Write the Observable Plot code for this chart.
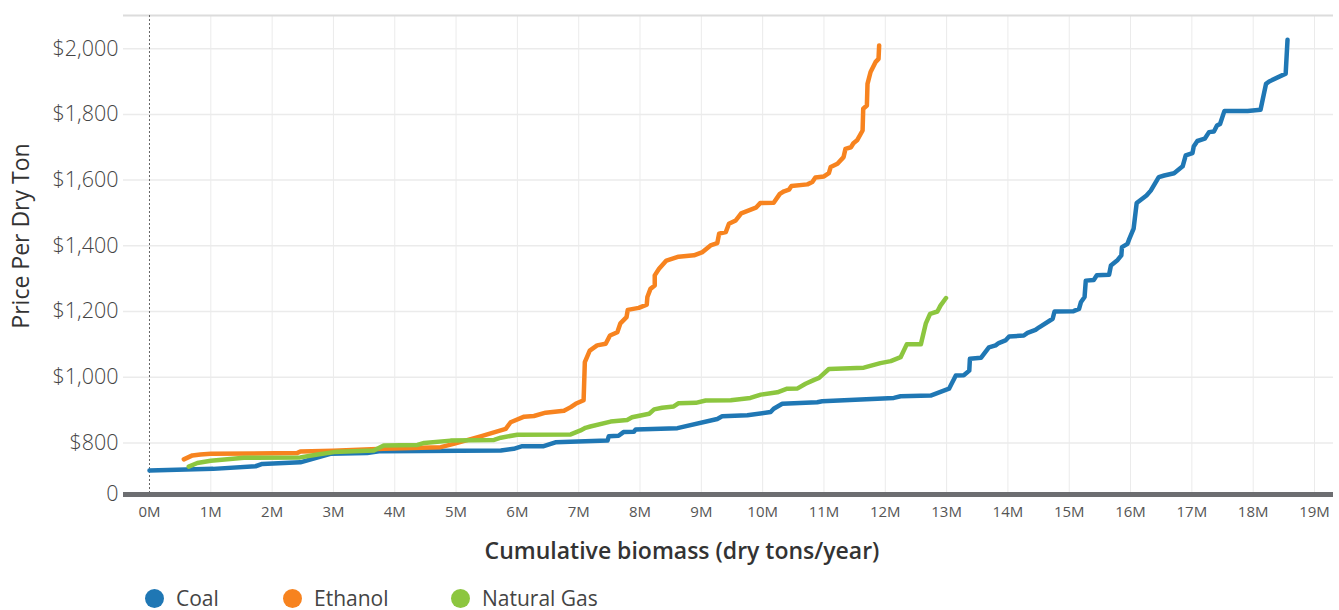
<!DOCTYPE html>
<html>
<head>
<meta charset="utf-8">
<script src="https://cdn.jsdelivr.net/npm/d3@7"></script>
<script src="https://cdn.jsdelivr.net/npm/@observablehq/plot@0.6"></script>
<style>
  html, body { margin: 0; padding: 0; background: #fff; }
  #wrap { position: relative; width: 1339px; height: 610px; font-family: "Open Sans", sans-serif; }
  #xlabel { position: absolute; left: 0; width: 1364px; top: 534px; text-align: center; font-size: 23px; font-weight: 600; color: #333; }
  #ylabel { position: absolute; left: 4px; top: 236px; width: 0; height: 0; }
  #ylabel span { position: absolute; transform: translate(-50%, -50%) rotate(-90deg); left: 16px; top: 0; white-space: nowrap; font-size: 23px; font-weight: 500; color: #333; }
  #legend { position: absolute; left: 145px; top: 584px; display: flex; font-size: 21px; color: #444; }
  .item { display: flex; align-items: center; }
  .dot { width: 19px; height: 19px; border-radius: 50%; margin-right: 12px; }
</style>
</head>
<body>
<div id="wrap">
  <div id="chart"></div>
  <div id="ylabel"><span>Price Per Dry Ton</span></div>
  <div id="xlabel">Cumulative biomass (dry tons/year)</div>
  <div id="legend"></div>
</div>
<script>
// ---- Data (cumulative biomass in millions of dry tons, price $/dry ton) ----
const seriesNames = ["Coal", "Ethanol", "Natural Gas"];
const seriesColors = ["#1f77b4", "#f7831f", "#8cc63f"];

const coalMt = [0.00,1.04,1.73,1.84,2.46,2.95,3.55,3.77,5.73,5.94,6.08,6.43,6.62,7.47,7.49,7.65,7.73,7.90,7.93,8.61,9.26,9.34,9.75,10.13,10.18,10.32,10.89,10.97,12.14,12.25,12.74,13.04,13.15,13.28,13.37,13.38,13.56,13.69,13.80,13.85,13.96,14.02,14.26,14.32,14.45,14.51,14.73,14.76,15.07,15.16,15.19,15.25,15.27,15.40,15.45,15.65,15.68,15.79,15.85,15.86,15.95,15.98,16.05,16.10,16.26,16.33,16.46,16.55,16.71,16.85,16.90,17.01,17.03,17.09,17.21,17.28,17.36,17.41,17.46,17.53,17.91,18.12,18.21,18.26,18.53,18.56];
const coalPrice = [716,721,729,736,741,767,769,775,777,782,790,790,802,807,820,822,833,834,841,845,873,881,884,894,904,919,924,927,937,942,944,965,1005,1006,1020,1056,1059,1091,1097,1104,1112,1124,1127,1135,1144,1152,1178,1200,1201,1208,1228,1244,1294,1296,1310,1312,1340,1357,1371,1396,1406,1421,1452,1530,1553,1568,1609,1614,1621,1642,1675,1682,1702,1719,1726,1746,1748,1766,1771,1810,1810,1814,1893,1900,1924,2027];

const ethanolMt = [0.56,0.70,0.83,1.00,2.41,2.46,3.00,3.82,4.75,4.96,5.40,5.81,5.89,6.11,6.27,6.46,6.76,6.87,6.95,7.08,7.10,7.18,7.30,7.44,7.51,7.63,7.68,7.78,7.80,7.98,8.11,8.12,8.17,8.24,8.24,8.31,8.43,8.63,8.88,9.02,9.15,9.26,9.29,9.40,9.45,9.56,9.65,9.89,9.96,10.18,10.28,10.35,10.43,10.47,10.73,10.81,10.86,11.00,11.08,11.11,11.22,11.32,11.35,11.44,11.48,11.54,11.63,11.64,11.70,11.71,11.76,11.84,11.89,11.90];
const ethanolPrice = [750,762,765,767,769,774,776,782,787,797,820,843,863,880,882,892,898,909,919,930,1046,1081,1097,1102,1127,1137,1164,1183,1205,1211,1221,1244,1269,1279,1310,1330,1355,1367,1371,1381,1401,1408,1437,1442,1467,1477,1499,1516,1530,1531,1558,1566,1571,1582,1587,1594,1608,1611,1621,1640,1650,1670,1695,1700,1712,1721,1751,1817,1827,1893,1929,1959,1969,2010];

const gasMt = [0.64,0.78,1.00,1.54,2.46,2.74,3.01,3.66,3.82,4.37,4.48,4.91,5.62,5.73,6.00,6.87,7.03,7.11,7.19,7.52,7.79,7.87,8.15,8.23,8.36,8.55,8.63,8.91,9.07,9.48,9.80,9.97,10.24,10.40,10.57,10.70,10.84,10.92,11.08,11.65,11.92,12.09,12.25,12.35,12.58,12.66,12.73,12.85,12.90,12.99];
const gasPrice = [728,739,746,755,756,765,772,777,792,794,800,807,809,816,825,826,838,846,850,865,870,878,889,902,907,911,921,922,929,930,937,947,954,965,966,980,992,998,1025,1029,1043,1049,1061,1100,1100,1163,1193,1200,1218,1241];

// axis settings
const xTicks = d3.range(0, 20);          // 0M .. 19M
const yTicks = [800, 1000, 1200, 1400, 1600, 1800, 2000];
const yBase = 643;                        // value at the baseline (labelled "0")
const yTop = 2101;
const xMin = -0.424, xMax = 19.31;

// ---- Build table ----
const rows = [];
[[coalMt, coalPrice, "Coal"], [ethanolMt, ethanolPrice, "Ethanol"], [gasMt, gasPrice, "Natural Gas"]]
  .forEach(([xs, ys, name]) => xs.forEach((x, i) => rows.push({ series: name, mt: x, price: ys[i] })));

const fmtY = d => d === yBase ? "0" : "$" + d3.format(",")(d);

const chart = Plot.plot({
  width: 1339,
  height: 530,
  marginTop: 15,
  marginLeft: 123,
  marginRight: 6,
  marginBottom: 36,
  style: { fontFamily: "Open Sans, sans-serif", background: "#fff" },
  x: { domain: [xMin, xMax] },
  y: { domain: [yBase, yTop] },
  color: { domain: seriesNames, range: seriesColors },
  marks: [
    Plot.gridX(xTicks.slice(1), { stroke: "#ebebeb", strokeOpacity: 1, strokeWidth: 1 }),
    Plot.gridY(yTicks, { stroke: "#ebebeb", strokeOpacity: 1, strokeWidth: 1.5 }),
    Plot.ruleY([yTop], { stroke: "#dcdcdc", strokeWidth: 2 }),
    Plot.ruleX([0], { stroke: "#666", strokeWidth: 1, strokeDasharray: "2,2" }),
    Plot.axisY([yBase, ...yTicks], { tickSize: 0, tickPadding: 5, tickFormat: fmtY, fontSize: 21.5, fontWeight: 300, fill: "#444", label: null }),
    Plot.axisX(xTicks, { tickSize: 0, tickPadding: 12, tickFormat: d => d + "M", fontSize: 15, fill: "#555", label: null }),
    Plot.line(rows, { x: "mt", y: "price", z: "series", stroke: "series", strokeWidth: 4.5, strokeLinejoin: "round", strokeLinecap: "round" }),
    Plot.ruleY([yBase], { stroke: "#6d6e71", strokeWidth: 5 })
  ]
});
document.getElementById("chart").appendChild(chart);

// legend
const legend = document.getElementById("legend");
const gaps = [138, 168, 0];
seriesNames.forEach((name, i) => {
  const item = document.createElement("div");
  item.className = "item";
  item.style.width = gaps[i] ? gaps[i] + "px" : "auto";
  const dot = document.createElement("span");
  dot.className = "dot";
  dot.style.background = seriesColors[i];
  const label = document.createElement("span");
  label.textContent = name;
  item.appendChild(dot);
  item.appendChild(label);
  legend.appendChild(item);
});
</script>
</body>
</html>
